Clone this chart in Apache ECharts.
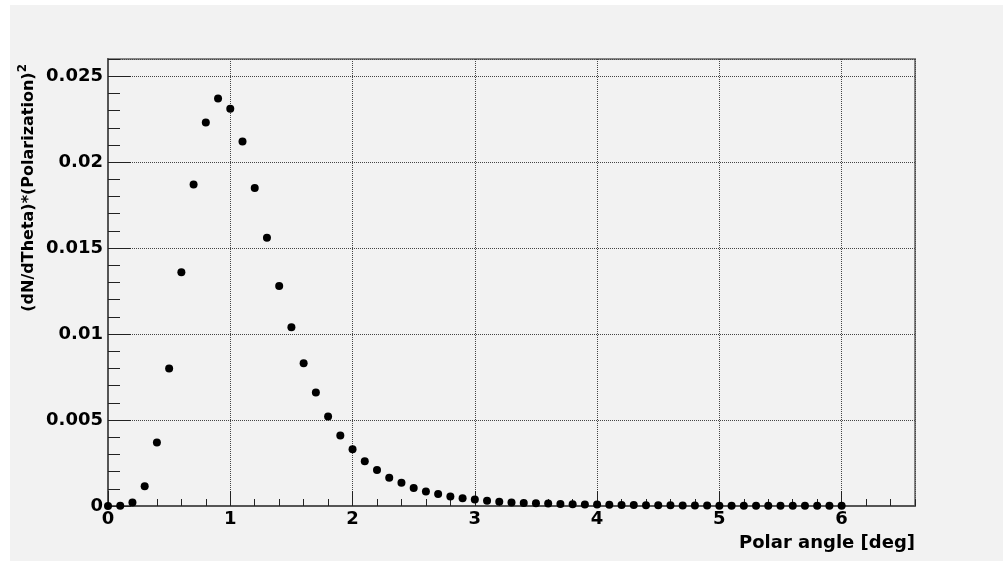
<!DOCTYPE html>
<html>
<head>
<meta charset="utf-8">
<script src="https://cdn.jsdelivr.net/npm/echarts@6/dist/echarts.min.js"></script>
<style>
  html, body { margin: 0; padding: 0; background: #fff; }
  #chart { width: 1003px; height: 561px; }
</style>
</head>
<body>
<div id="chart"></div>
<script>
// polar angle (deg) of each point
var angles = [
    0.0, 0.1, 0.2, 0.3, 0.4, 0.5, 0.6, 0.7, 0.8, 0.9,
    1.0, 1.1, 1.2, 1.3, 1.4, 1.5, 1.6, 1.7, 1.8, 1.9,
    2.0, 2.1, 2.2, 2.3, 2.4, 2.5, 2.6, 2.7, 2.8, 2.9,
    3.0, 3.1, 3.2, 3.3, 3.4, 3.5, 3.6, 3.7, 3.8, 3.9,
    4.0, 4.1, 4.2, 4.3, 4.4, 4.5, 4.6, 4.7, 4.8, 4.9,
    5.0, 5.1, 5.2, 5.3, 5.4, 5.5, 5.6, 5.7, 5.8, 5.9,
    6.0
];
// (dN/dTheta)*(Polarization)^2
var weights = [
    0, 0.00002, 0.0002, 0.00115, 0.0037, 0.0080, 0.0136, 0.0187, 0.0223, 0.0237,
    0.0231, 0.0212, 0.0185, 0.0156, 0.0128, 0.0104, 0.0083, 0.0066, 0.0052, 0.0041,
    0.0033, 0.0026, 0.0021, 0.00165, 0.00135, 0.00105, 0.00085, 0.0007, 0.00055, 0.00045,
    0.00038, 0.0003, 0.00025, 0.0002, 0.00018, 0.00016, 0.00014, 0.00012, 0.0001, 0.00009,
    0.00008, 0.00007, 0.00006, 0.00006, 0.00005, 0.00005, 0.00004, 0.00003, 0.00003, 0.00003,
    0.00002, 0.00002, 0.00002, 0.00002, 0.00001, 0.00001, 0.00001, 0.00001, 0.00001, 0.00001,
    0.00001
];
var titleText = '(dN/dTheta)*(Polarization)\u00b2 vs. angle';
var xTitle = 'Polar angle [deg]';
var yTitle = '(dN/dTheta)*(Polarization)';

var points = [];
for (var i = 0; i < angles.length; i++) {
    points.push([angles[i], weights[i]]);
}

var labelFont = {
    fontFamily: 'DejaVu Sans',
    fontWeight: 'bold',
    fontSize: 18,
    color: '#000'
};

var chart = echarts.init(document.getElementById('chart'));
chart.setOption({
    backgroundColor: '#fff',
    animation: false,
    grid: {
        left: 108,
        right: 88,
        top: 59,
        bottom: 55,
        show: true,
        borderColor: '#858585',
        borderWidth: 2,
        backgroundColor: 'transparent'
    },
    graphic: [
        {
            type: 'rect',
            z: -10,
            shape: { x: 10, y: 5, width: 993, height: 556 },
            style: { fill: '#f2f2f2' }
        },
        {
            // title sits above the picture, only its lowest strokes show
            type: 'text',
            x: 100,
            y: -18,
            style: {
                text: titleText,
                fontFamily: 'Liberation Serif',
                fontSize: 17,
                fill: '#000',
                verticalAlign: 'top'
            }
        },
        {
            type: 'text',
            x: 915,
            y: 543,
            style: {
                text: xTitle,
                fontFamily: 'DejaVu Sans',
                fontWeight: 'bold',
                fontSize: 18,
                fill: '#000',
                align: 'right',
                verticalAlign: 'middle'
            }
        },
        {
            type: 'text',
            x: 29,
            y: 64,
            rotation: Math.PI / 2,
            style: {
                text: yTitle + '{sup|2}',
                fontFamily: 'DejaVu Sans',
                fontWeight: 'bold',
                fontSize: 16,
                fill: '#000',
                align: 'right',
                verticalAlign: 'middle',
                rich: {
                    sup: {
                        fontFamily: 'DejaVu Sans',
                        fontWeight: 'bold',
                        fontSize: 12,
                        padding: [0, 0, 12, 0]
                    }
                }
            }
        }
    ],
    xAxis: [
        {
            type: 'value',
            min: 0,
            max: 6.6,
            interval: 1,
            axisLine: { lineStyle: { color: '#555', width: 2 } },
            axisTick: { inside: true, length: 15, lineStyle: { color: '#222' } },
            axisLabel: Object.assign({ margin: 4, showMaxLabel: false }, labelFont),
            splitLine: { show: true, lineStyle: { color: '#444', type: [1, 1] } }
        },
        {
            type: 'value',
            position: 'bottom',
            min: 0,
            max: 6.6,
            interval: 0.2,
            axisLine: { show: false },
            axisTick: { inside: true, length: 7, lineStyle: { color: '#222' } },
            axisLabel: { show: false },
            splitLine: { show: false }
        }
    ],
    yAxis: [
        {
            type: 'value',
            min: 0,
            max: 0.026,
            interval: 0.005,
            axisLine: { show: true, lineStyle: { color: '#555', width: 2 } },
            axisTick: { show: true, inside: true, length: 23, lineStyle: { color: '#222' } },
            axisLabel: Object.assign({ margin: 5, showMaxLabel: false }, labelFont),
            splitLine: { show: true, lineStyle: { color: '#444', type: [1, 1] } }
        },
        {
            type: 'value',
            position: 'left',
            min: 0,
            max: 0.026,
            interval: 0.001,
            axisLine: { show: false },
            axisTick: { show: true, inside: true, length: 12, lineStyle: { color: '#222' } },
            axisLabel: { show: false },
            splitLine: { show: false }
        }
    ],
    series: [
        {
            type: 'scatter',
            data: points,
            symbol: 'circle',
            symbolSize: 8,
            itemStyle: { color: '#000', opacity: 1 },
            z: 5
        }
    ]
});
</script>
</body>
</html>
